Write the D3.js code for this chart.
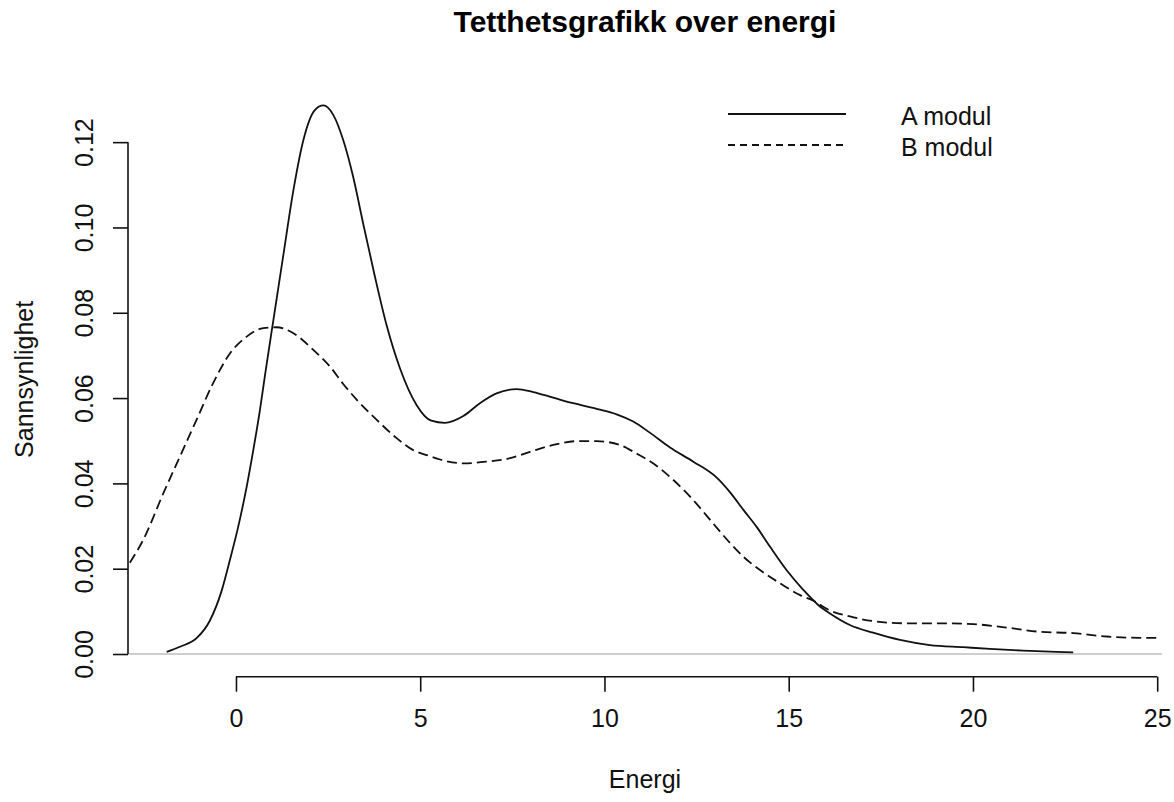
<!DOCTYPE html>
<html>
<head>
<meta charset="utf-8">
<script src="https://cdn.jsdelivr.net/npm/d3@7"></script>
<style>
  html, body { margin: 0; padding: 0; background: #fff; }
  svg { display: block; font-family: "Liberation Sans", Arial, sans-serif; }
</style>
</head>
<body>
<svg id="chart" width="1174" height="802"></svg>
<script>
// Density estimate for module A (energy, density)
const energiA = [-1.88, -1.52, -1.07, -0.71, -0.39, -0.16, 0.06, 0.29, 0.47, 0.65, 0.79,
  1.01, 1.28, 1.56, 1.83, 2.14, 2.37, 2.64, 2.91, 3.18, 3.45, 3.77, 4.09, 4.45, 4.90,
  5.30, 5.67, 6.17, 6.62, 7.07, 7.62, 8.07, 8.61, 9.15, 9.88, 10.33, 10.78, 11.23,
  11.78, 12.41, 13.04, 13.41, 13.77, 14.13, 14.49, 14.94, 15.40, 15.80, 16.12, 16.66,
  17.29, 18.02, 18.83, 19.74, 20.46, 21.36, 22.27, 22.72];
const tettA = [0.0005, 0.0017, 0.0037, 0.0078, 0.0148, 0.0222, 0.0298, 0.0392, 0.0478, 0.0572, 0.0655,
  0.0780, 0.0932, 0.1088, 0.1205, 0.1275, 0.1286, 0.1264, 0.1205, 0.1119, 0.1010, 0.0885, 0.0770, 0.0670, 0.0584,
  0.0547, 0.0542, 0.0558, 0.0588, 0.0611, 0.0621, 0.0614, 0.0601, 0.0588, 0.0573, 0.0562, 0.0545, 0.0519,
  0.0484, 0.0451, 0.0414, 0.0379, 0.0338, 0.0298, 0.0252, 0.0197, 0.0150, 0.0115, 0.0095, 0.0068,
  0.0050, 0.0033, 0.0021, 0.0016, 0.0012, 0.0008, 0.0005, 0.0004];

// Density estimate for module B
const energiB = [-2.88, -2.52, -1.97, -1.52, -1.07, -0.62, -0.16, 0.29, 0.74, 1.10, 1.56,
  2.10, 2.55, 2.91, 3.28, 3.82, 4.36, 4.81, 5.26, 5.54, 6.17, 6.80, 7.44, 7.98, 8.61,
  9.25, 9.79, 10.42, 10.87, 11.32, 11.87, 12.41, 12.95, 13.41, 13.77, 14.22, 14.76,
  15.31, 15.67, 16.12, 16.66, 17.39, 18.20, 19.10, 20.01, 20.91, 21.82, 22.72, 23.63,
  24.53, 24.98];
const tettB = [0.0214, 0.0267, 0.0377, 0.0463, 0.0549, 0.0635, 0.0705, 0.0744, 0.0764, 0.0766, 0.0752,
  0.0713, 0.0674, 0.0633, 0.0596, 0.0549, 0.0506, 0.0478, 0.0464, 0.0456, 0.0447, 0.0451, 0.0459, 0.0474, 0.0490,
  0.0499, 0.0499, 0.0490, 0.0470, 0.0447, 0.0408, 0.0361, 0.0306, 0.0260, 0.0228, 0.0197, 0.0166,
  0.0138, 0.0125, 0.0102, 0.0088, 0.0076, 0.0072, 0.0072, 0.0070, 0.0062, 0.0052, 0.0049, 0.0041,
  0.0038, 0.0038];

const xTicks = [0, 5, 10, 15, 20, 25];
const yTicks = [0.00, 0.02, 0.04, 0.06, 0.08, 0.10, 0.12];
const seriesNames = ["A modul", "B modul"];

const svg = d3.select("#chart");
const plot = { left: 128, right: 1162, top: 82, bottom: 676.7 };

const x = d3.scaleLinear().domain([-2.93, 25.13]).range([plot.left, plot.right]);
const y = d3.scaleLinear().domain([-0.00532, 0.1341]).range([plot.bottom, plot.top]);

const fontSize = 25;
const ink = "#111";
const fontFamily = '"Liberation Sans", Arial, sans-serif';

// clip region for the curves
svg.append("defs").append("clipPath").attr("id", "plotClip")
  .append("rect")
  .attr("x", plot.left).attr("y", plot.top)
  .attr("width", plot.right - plot.left).attr("height", plot.bottom - plot.top);

// grey zero line
svg.append("line")
  .attr("x1", plot.left).attr("x2", plot.right)
  .attr("y1", y(0)).attr("y2", y(0))
  .attr("stroke", "#bebebe").attr("stroke-width", 1.6);

const line = d3.line()
  .x(d => x(d[0])).y(d => y(d[1]))
  .curve(d3.curveMonotoneX);

const dataA = energiA.map((e, i) => [e, tettA[i]]);
const dataB = energiB.map((e, i) => [e, tettB[i]]);

const curves = svg.append("g").attr("clip-path", "url(#plotClip)");
curves.append("path").datum(dataA)
  .attr("d", line).attr("fill", "none")
  .attr("stroke", ink).attr("stroke-width", 1.8);
curves.append("path").datum(dataB)
  .attr("d", line).attr("fill", "none")
  .attr("stroke", ink).attr("stroke-width", 1.8)
  .attr("stroke-dasharray", "10,5");

// x axis
const xAxis = d3.axisBottom(x).tickValues(xTicks).tickFormat(d3.format("d"))
  .tickSize(15).tickSizeOuter(0).tickPadding(18);
const gx = svg.append("g").attr("transform", `translate(0,${plot.bottom})`).call(xAxis);
gx.select(".domain").attr("stroke", ink).attr("stroke-width", 1.6)
  .attr("d", `M${x(0)},0H${x(25)}`);
gx.selectAll(".tick line").attr("stroke", ink).attr("stroke-width", 1.6);
gx.selectAll(".tick text").attr("fill", ink)
  .style("font-size", fontSize + "px").style("font-family", fontFamily);

// y axis
const yAxis = d3.axisLeft(y).tickValues(yTicks).tickFormat(d3.format(".2f"))
  .tickSize(15).tickSizeOuter(0);
const gy = svg.append("g").attr("transform", `translate(${plot.left},0)`).call(yAxis);
gy.select(".domain").attr("stroke", ink).attr("stroke-width", 1.6)
  .attr("d", `M0,${y(0)}V${y(0.12)}`);
gy.selectAll(".tick line").attr("stroke", ink).attr("stroke-width", 1.6);
gy.selectAll(".tick text")
  .attr("x", null).attr("dy", null)
  .attr("text-anchor", "middle")
  .attr("transform", "translate(-35,0) rotate(-90)")
  .attr("fill", ink)
  .style("font-size", fontSize + "px").style("font-family", fontFamily);

// title
svg.append("text")
  .attr("x", (plot.left + plot.right) / 2).attr("y", 32)
  .attr("text-anchor", "middle")
  .attr("font-weight", "bold").attr("font-size", 30).attr("fill", "#000")
  .text("Tetthetsgrafikk over energi");

// axis titles
svg.append("text")
  .attr("x", (plot.left + plot.right) / 2).attr("y", 788)
  .attr("text-anchor", "middle").attr("font-size", fontSize).attr("fill", ink)
  .text("Energi");

svg.append("text")
  .attr("transform", `translate(33,${(plot.top + plot.bottom) / 2}) rotate(-90)`)
  .attr("text-anchor", "middle").attr("font-size", fontSize).attr("fill", ink)
  .text("Sannsynlighet");

// legend
const legendRows = [
  { name: seriesNames[0], dash: null, y: 114 },
  { name: seriesNames[1], dash: "7,5", y: 145 }
];
const lg = svg.append("g");
legendRows.forEach(r => {
  lg.append("line")
    .attr("x1", 728).attr("x2", 846).attr("y1", r.y).attr("y2", r.y)
    .attr("stroke", ink).attr("stroke-width", 1.8)
    .attr("stroke-dasharray", r.dash);
  lg.append("text")
    .attr("x", 901).attr("y", r.y + 11)
    .attr("font-size", fontSize).attr("fill", ink)
    .text(r.name);
});
</script>
</body>
</html>
